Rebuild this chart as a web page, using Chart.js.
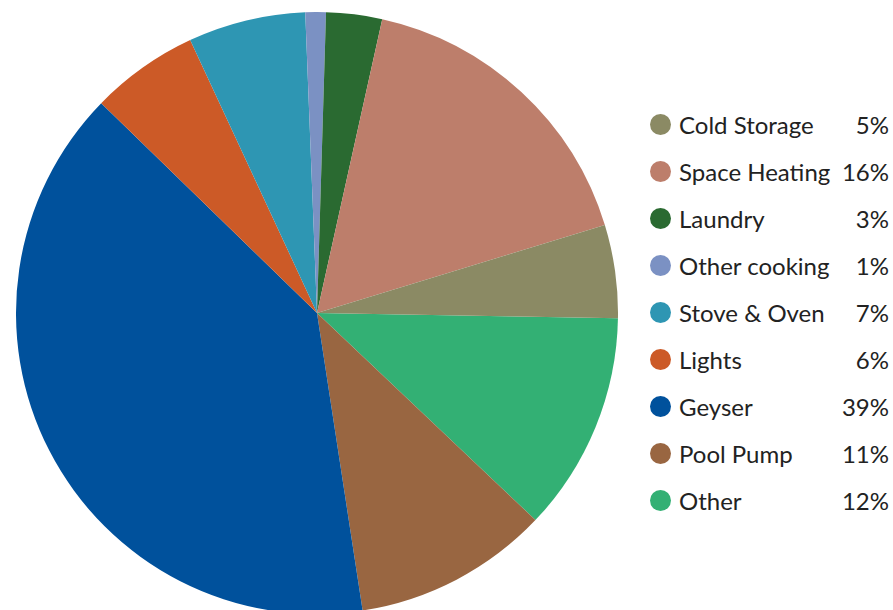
<!DOCTYPE html>
<html>
<head>
<meta charset="utf-8">
<script src="https://cdn.jsdelivr.net/npm/chart.js@4"></script>
<style>
  html, body { margin: 0; padding: 0; background: #fff; overflow: hidden; }
  body { width: 893px; height: 610px; position: relative; font-family: Lato, "Open Sans", sans-serif; }
  #pie-box { position: absolute; left: 16px; top: 12px; width: 602px; height: 602px; }
  #legend { position: absolute; left: 650px; top: 101px; width: 239px; }
  .row { height: 47px; display: flex; align-items: center; font-size: 24px; color: #222; }
  .dot { width: 21px; height: 21px; border-radius: 50%; margin-right: 8px; flex: none; }
  .name { flex: 1; white-space: nowrap; }
  .pct { text-align: right; }
</style>
</head>
<body>
<div id="pie-box"><canvas id="myChart"></canvas></div>
<div id="legend"></div>
<script>
const labels = ['Cold Storage', 'Space Heating', 'Laundry', 'Other cooking', 'Stove & Oven', 'Lights', 'Geyser', 'Pool Pump', 'Other']
// slice sizes as measured off the pie
const values = [5.0, 16.8, 3.0, 1.1, 6.3, 5.8, 39.7, 10.5, 11.8]
// percentages as printed in the legend
const pctLabels = ['5%', '16%', '3%', '1%', '7%', '6%', '39%', '11%', '12%']
const colors = ['#8b8a64', '#bd7e6b', '#2a6a31', '#7b91c3', '#2e96b3', '#cc5a27', '#00519c', '#996641', '#33b074']

const legendBox = document.getElementById('legend')
labels.forEach((l, i) => {
    legendBox.innerHTML += `<div class="row"><span class="dot" style="background:${colors[i]}"></span><span class="name">${l.replace('&', '&amp;')}</span><span class="pct">${pctLabels[i]}</span></div>`
})

// slices run counter-clockwise from 3 o'clock, chart.js goes clockwise, so reverse
const ctx = document.getElementById('myChart').getContext('2d')
const chart = new Chart(ctx, {
    type: 'pie',
    data: {
        labels: labels.slice().reverse(),
        datasets: [{
            data: values.slice().reverse(),
            backgroundColor: colors.slice().reverse(),
            borderWidth: 0
        }]
    },
    options: {
        responsive: true,
        maintainAspectRatio: false,
        animation: false,
        rotation: 91,
        layout: { padding: 0 },
        plugins: {
            legend: { display: false },
            tooltip: { enabled: false }
        }
    }
})
</script>
</body>
</html>
